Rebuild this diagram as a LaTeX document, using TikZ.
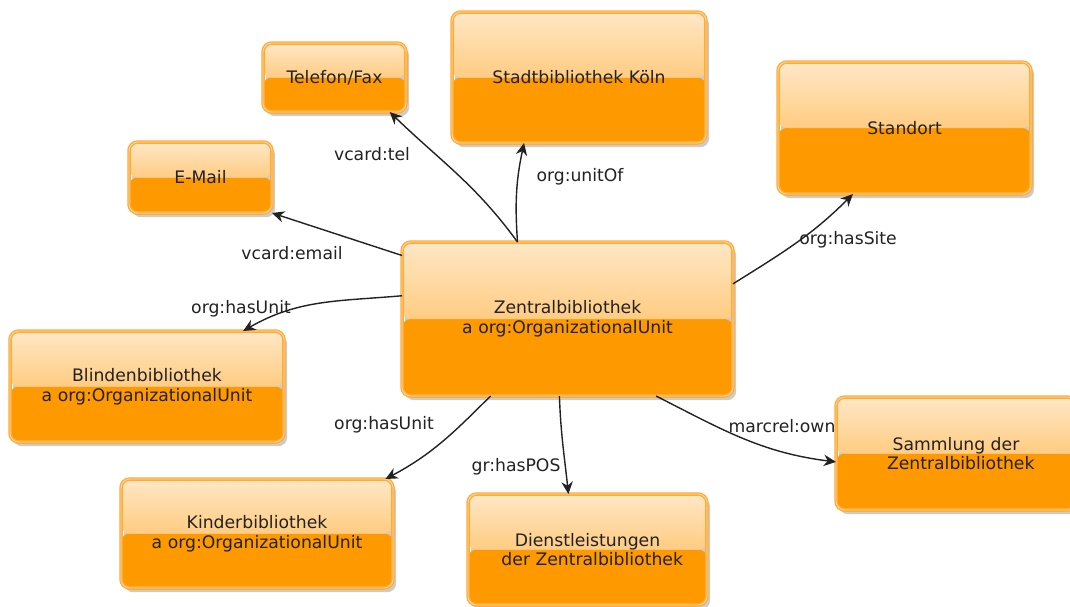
\documentclass[tikz,border=0pt]{standalone}
\usepackage{fontspec}
\setmainfont{DejaVu Sans}
\usetikzlibrary{arrows.meta,shadows}

\definecolor{boxorange}{RGB}{255,153,0}
\definecolor{boxtop}{RGB}{255,231,198}
\definecolor{boxmid}{RGB}{255,204,130}
\definecolor{boxedge}{RGB}{255,172,55}
\definecolor{boxglow}{RGB}{255,214,160}
\definecolor{inkgrey}{RGB}{34,34,34}
\newcommand{\diagfont}{\fontsize{9.8}{11.3}\selectfont}

\begin{document}
\begin{tikzpicture}[x=0.02cm,y=0.02cm,inner sep=0pt,outer sep=0pt,
box/.style={draw=boxedge,double=boxglow,double distance=0.5pt,line width=0.75pt,rounded corners=5pt,
  align=center,text=inkgrey,font=\diagfont,
  drop shadow={shadow xshift=1.8pt,shadow yshift=-2.4pt,opacity=0.4},
  path picture={
    \fill[boxorange] (path picture bounding box.west) rectangle (path picture bounding box.south east);
    \shade[top color=boxtop,bottom color=boxmid] (path picture bounding box.north west) rectangle (path picture bounding box.east);}},
rel/.style={draw=inkgrey,line width=0.8pt,-{Stealth[length=7pt,width=6.5pt]}},
rellabel/.style={text=inkgrey,font=\diagfont}]

\useasboundingbox (0,0) rectangle (1070,-606);

\node[box,minimum width=2.86cm,minimum height=1.38cm] (tel) at (334.5,-77.5) {Telefon/Fax};
\node[box,minimum width=5.08cm,minimum height=2.62cm] (stadt) at (579,-77.5) {Stadtbibliothek Köln};
\node[box,minimum width=2.86cm,minimum height=1.42cm] (email) at (200.5,-177.5) {E-Mail};
\node[box,minimum width=5.06cm,minimum height=2.64cm] (standort) at (904.5,-128) {Standort};
\node[box,minimum width=6.62cm,minimum height=3.08cm] (zentral) at (567.5,-319) {Zentralbibliothek\\a org:OrganizationalUnit};
\node[box,minimum width=5.48cm,minimum height=2.22cm] (blinden) at (147,-386.5) {Blindenbibliothek\\a org:OrganizationalUnit};
\node[box,minimum width=5.44cm,minimum height=2.18cm] (kinder) at (257,-533.5) {Kinderbibliothek\\a org:OrganizationalUnit};
\node[box,minimum width=4.78cm,minimum height=2.22cm] (dienst) at (587.5,-549.5) {Dienstleistungen\\\hspace*{0.55em}der Zentralbibliothek};
\node[box,minimum width=4.8cm,minimum height=2.26cm] (sammlung) at (956,-453.5) {Sammlung der\\\hspace*{0.55em}Zentralbibliothek};

% relations
\draw[rel] (zentral.123) to[out=126,in=-44] (tel.-32);
\draw[rel] (zentral.123) to[out=94,in=-102] (stadt.-130);
\draw[rel] (zentral.159) -- (email.south east);
\draw[rel] (zentral.172) to[out=185,in=30] (blinden.30);
\draw[rel] (zentral.-135) to[out=225,in=28] (kinder.23);
\draw[rel] (zentral.-96) to[out=-88,in=96] (dienst.109);
\draw[rel] (zentral.-41) to[out=-27,in=173] (sammlung.184);
\draw[rel] (zentral.12) to[out=32,in=-135] (standort.-128);

\node[rellabel] (lTel) at (372,-154) {vcard:tel};
\node[rellabel] (lUnitOf) at (580,-177) {org:unitOf};
\node[rellabel] (lEmail) at (292,-253) {vcard:email};
\node[rellabel] (lUnitA) at (241,-309) {org:hasUnit};
\node[rellabel] (lUnitB) at (384,-425) {org:hasUnit};
\node[rellabel] (lPOS) at (516,-467) {gr:hasPOS};
\node[rellabel] (lOwn) at (782,-426) {marcrel:own};
\node[rellabel] (lSite) at (848,-240) {org:hasSite};
\end{tikzpicture}
\end{document}
